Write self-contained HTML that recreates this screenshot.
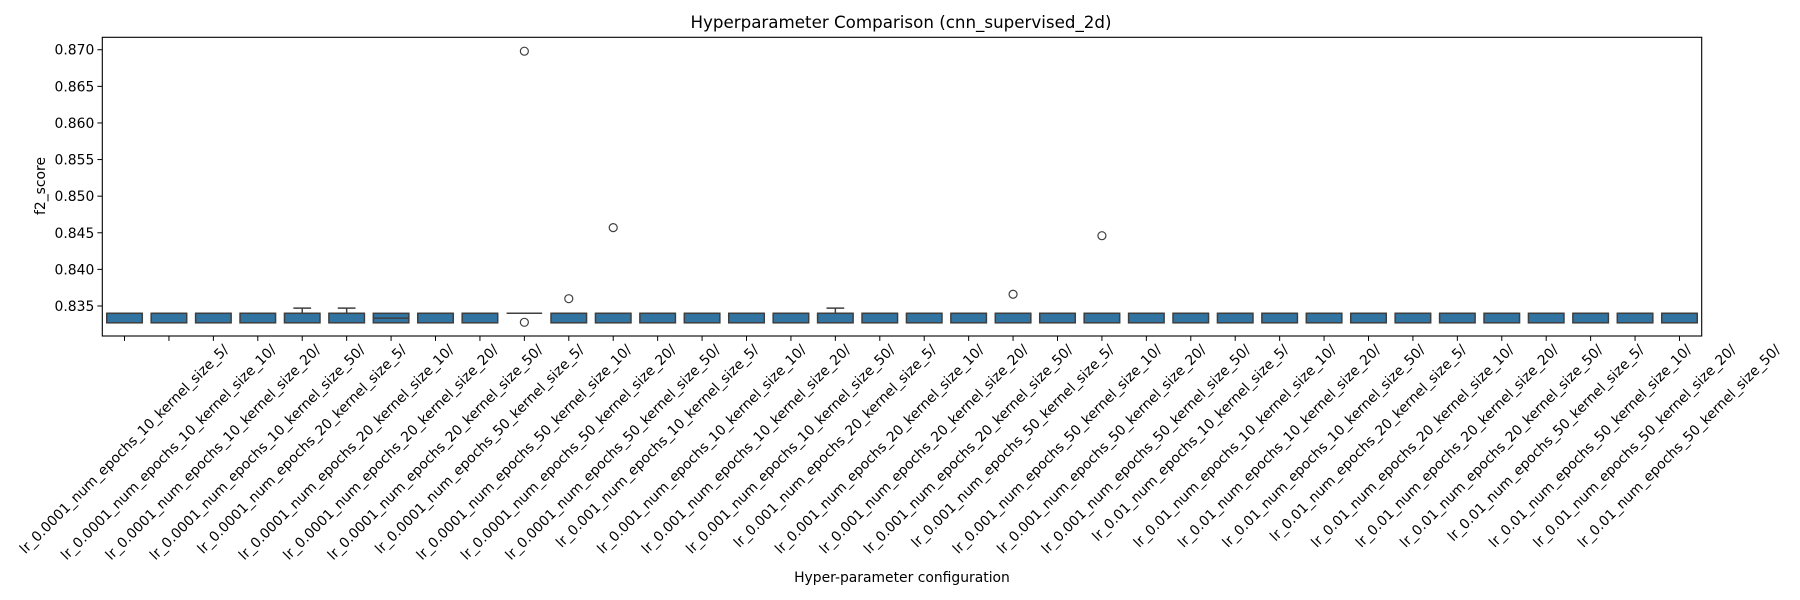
<!DOCTYPE html>
<html><head><meta charset="utf-8"><style>
html,body{margin:0;padding:0;background:#fff;}
svg{display:block;font-family:"DejaVu Sans","Liberation Sans",sans-serif;}
</style></head>
<body>
<svg id="chart" width="1800" height="600" viewBox="0 0 1800 600" xmlns="http://www.w3.org/2000/svg">
<text x="901" y="28" text-anchor="middle" font-size="16.7" fill="#000">Hyperparameter Comparison (cnn_supervised_2d)</text>
<text x="902" y="582" text-anchor="middle" font-size="13.9" fill="#000">Hyper-parameter configuration</text>
<text transform="translate(45,186) rotate(-90)" text-anchor="middle" font-size="13.9" fill="#000">f2_score</text>
<g id="plot"></g>
</svg>
<script>
const lrs = ["0.0001","0.001","0.01"];
const epochs = ["10","20","50"];
const kernels = ["5","10","20","50"];
const q1 = [0.8327,0.8327,0.8327,0.8327,0.8327,0.8327,0.8327,0.8327,0.8327,0.8340,0.8327,0.8327,0.8327,0.8327,0.8327,0.8327,0.8327,0.8327,0.8327,0.8327,0.8327,0.8327,0.8327,0.8327,0.8327,0.8327,0.8327,0.8327,0.8327,0.8327,0.8327,0.8327,0.8327,0.8327,0.8327,0.8327];
const q3 = [0.8340,0.8340,0.8340,0.8340,0.8340,0.8340,0.8340,0.8340,0.8340,0.8340,0.8340,0.8340,0.8340,0.8340,0.8340,0.8340,0.8340,0.8340,0.8340,0.8340,0.8340,0.8340,0.8340,0.8340,0.8340,0.8340,0.8340,0.8340,0.8340,0.8340,0.8340,0.8340,0.8340,0.8340,0.8340,0.8340];
const medians = [0.8340,0.8340,0.8340,0.8340,0.8340,0.8340,0.83335,0.8340,0.8340,0.8340,0.8340,0.8340,0.8340,0.8340,0.8340,0.8340,0.8340,0.8340,0.8340,0.8340,0.8340,0.8340,0.8340,0.8340,0.8340,0.8340,0.8340,0.8340,0.8340,0.8340,0.8340,0.8340,0.8340,0.8340,0.8340,0.8340];
const whiskerHigh = [0.8340,0.8340,0.8340,0.8340,0.8347,0.8347,0.8340,0.8340,0.8340,0.8340,0.8340,0.8340,0.8340,0.8340,0.8340,0.8340,0.8347,0.8340,0.8340,0.8340,0.8340,0.8340,0.8340,0.8340,0.8340,0.8340,0.8340,0.8340,0.8340,0.8340,0.8340,0.8340,0.8340,0.8340,0.8340,0.8340];
const outlierIndex = [9,9,10,11,20,22];
const outlierValue = [0.8698,0.83277,0.8360,0.8457,0.8366,0.8446];
const yTicks = [0.835,0.840,0.845,0.850,0.855,0.860,0.865,0.870];

const categories = [];
lrs.forEach(l=>epochs.forEach(e=>kernels.forEach(k=>categories.push("lr_"+l+"_num_epochs_"+e+"_kernel_size_"+k+"/"))));

const L=102.3, R=1701.7, T=37.3, B=336;
const yMin=0.83090, yMax=0.87170;
function y(v){return B-(v-yMin)/(yMax-yMin)*(B-T);}
const step=(R-L)/categories.length;
function x(i){return L+step*(i+0.5);}

const NS="http://www.w3.org/2000/svg";
const g=document.getElementById("plot");
function mk(tag,attrs,parent){const el=document.createElementNS(NS,tag);for(const k in attrs)el.setAttribute(k,attrs[k]);(parent||g).appendChild(el);return el;}

const edge="#3f3f3f";
const bw=step*0.8;
categories.forEach((c,i)=>{
  const grp=mk("g",{});
  
  
  const cx=x(i);
  if(whiskerHigh[i]>q3[i]){
    mk("line",{x1:cx,x2:cx,y1:y(q3[i]),y2:y(whiskerHigh[i]),stroke:edge,"stroke-width":1.5},grp);
    mk("line",{x1:cx-bw/4,x2:cx+bw/4,y1:y(whiskerHigh[i]),y2:y(whiskerHigh[i]),stroke:edge,"stroke-width":1.5},grp);
  }
  const top=y(q3[i]), bot=y(q1[i]);
  mk("rect",{x:cx-bw/2,y:top,width:bw,height:Math.max(bot-top,0),fill:"#3274a1",stroke:edge,"stroke-width":1.5},grp);
  mk("line",{x1:cx-bw/2,x2:cx+bw/2,y1:y(medians[i]),y2:y(medians[i]),stroke:edge,"stroke-width":1.5},grp);
});
outlierIndex.forEach((idx,j)=>{
  const c=mk("circle",{cx:x(idx),cy:y(outlierValue[j]),r:4,fill:"none",stroke:edge,"stroke-width":1.2});
  
  
});

const frame=mk("rect",{x:L,y:T,width:R-L,height:B-T,fill:"none",stroke:"#000","stroke-width":1.1});



yTicks.forEach(t=>{
  mk("line",{x1:L-4.9,x2:L,y1:y(t),y2:y(t),stroke:"#000","stroke-width":1});
  const tx=mk("text",{x:L-8,y:y(t)+5,"text-anchor":"end","font-size":13.9,fill:"#000"});
  tx.textContent=t.toFixed(3);
  
  
});

categories.forEach((c,i)=>{
  const cx=x(i);
  mk("line",{x1:cx,x2:cx,y1:B,y2:B+4.9,stroke:"#000","stroke-width":1});
  const tx=mk("text",{"text-anchor":"middle","dominant-baseline":"central","font-size":13.9,fill:"#000"});
  tx.textContent=c;
  
  
  const len=tx.getComputedTextLength();
  const h=(len+16)*Math.SQRT1_2;
  const cy=B+6+h/2;
  tx.setAttribute("x",cx);tx.setAttribute("y",cy);
  tx.setAttribute("transform","rotate(-45 "+cx+" "+cy+")");
});
</script>
</body></html>
